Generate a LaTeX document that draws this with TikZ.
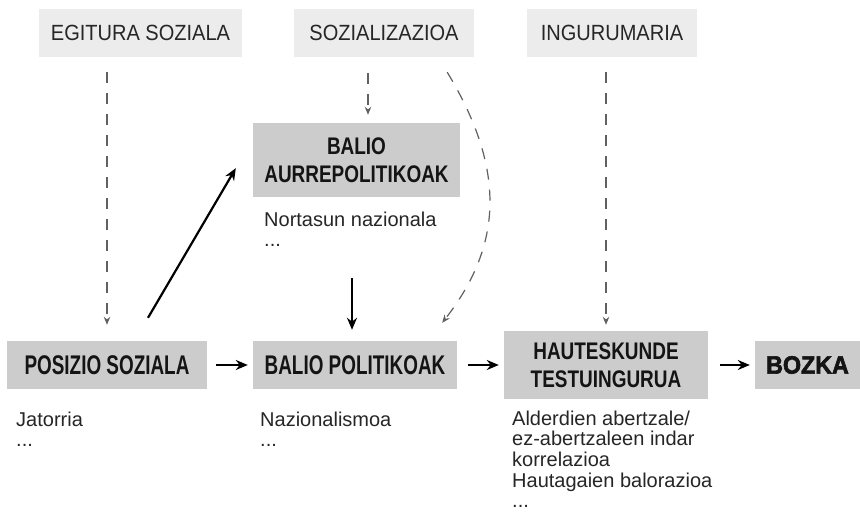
\documentclass[tikz,border=0pt]{standalone}
\usepackage{fontspec}
\setmainfont{Liberation Sans}
\newfontfamily\condfont[FakeStretch=0.70]{Liberation Sans}
\newfontfamily\condfontb[FakeStretch=0.79]{Liberation Sans}
\newfontfamily\topfont[FakeStretch=0.91]{Liberation Sans}
\newfontfamily\heavyfont[FakeStretch=0.93,BoldFeatures={FakeBold=2.5}]{Liberation Sans}
\usetikzlibrary{arrows.meta,calc}
\begin{document}
\begin{tikzpicture}[x=1pt,y=-1pt,
 topbox/.style={fill=black!7.5, text=black!85, font=\topfont\fontsize{22}{24}\selectfont, inner sep=0pt, minimum height=48pt},
 mainbox/.style={fill=black!20, text=black!92, font=\condfont\bfseries\fontsize{27}{29}\selectfont, inner sep=0pt, align=center},
 twoline/.style={font=\condfontb\bfseries\fontsize{24}{27.5}\selectfont},
 listtext/.style={anchor=north west, inner sep=0pt, align=left, text=black!85, font=\fontsize{20}{20.7}\selectfont},
 dasharrow/.style={draw=black!62, line width=1.2pt, dash pattern=on 11pt off 10pt, -{Stealth[length=8pt,width=6.5pt]}},
 solidarrow/.style={draw=black, line width=2.2pt, -{Stealth[length=12pt,width=10pt]}},
]
\fill[white] (0,0) rectangle (860,513);
\useasboundingbox (0,0) rectangle (860,513);

% top boxes
\node[topbox, minimum width=203pt] (egit) at (140.5,33) {EGITURA SOZIALA};
\node[topbox, minimum width=180pt] (soz) at (384,33) {SOZIALIZAZIOA};
\node[topbox, minimum width=170pt] (ingur) at (612,33) {INGURUMARIA};

% main boxes
\node[mainbox, twoline, minimum width=207pt, minimum height=74pt] (aurre) at (356.5,160) {BALIO\\AURREPOLITIKOAK};
\node[mainbox, minimum width=200pt, minimum height=48pt] (posizio) at (107,365) {POSIZIO SOZIALA};
\node[mainbox, minimum width=204pt, minimum height=48pt] (balpol) at (355,365) {BALIO POLITIKOAK};
\node[mainbox, twoline, minimum width=204pt, minimum height=68pt] (haut) at (606,365) {HAUTESKUNDE\\TESTUINGURUA};
\node[mainbox, minimum width=105pt, minimum height=48pt, font=\heavyfont\bfseries\fontsize{25}{27.5}\selectfont] (bozka) at (807.5,365) {BOZKA};

% list texts
\node[listtext] (tnort) at (264,211.5) {Nortasun nazionala\\...};
\node[listtext] (tjat) at (16,411.5) {Jatorria\\...};
\node[listtext] (tnaz) at (260,411.5) {Nazionalismoa\\...};
\node[listtext] (tald) at (512,410.5) {Alderdien abertzale/\\ez-abertzaleen indar\\korrelazioa\\Hautagaien balorazioa\\...};

% horizontal arrows
\draw[solidarrow, shorten <=9pt, shorten >=5pt] (posizio.east) -- (balpol.west);
\draw[solidarrow, shorten <=11pt, shorten >=5pt] (balpol.east) -- (haut.west);
\draw[solidarrow, shorten <=12pt, shorten >=5pt] (haut.east) -- (bozka.west);

% solid diagonal and down arrows
\draw[solidarrow] ($(posizio.north)+(41,-23)$) -- ($(aurre.south west)+(-17,-29)$);
\draw[solidarrow] ($(aurre.south)+(-4.5,81)$) -- ($(balpol.north)+(-3,-11)$);

% dashed arrows
\draw[dasharrow, shorten <=15pt, shorten >=16pt] (egit.south -| posizio.north) -- (posizio.north);
\draw[dasharrow] ($(soz.south)+(-16,16)$) -- ($(aurre.north)+(11.5,-8)$);
\draw[dasharrow, shorten <=15pt, shorten >=6pt] (ingur.south -| haut.north) -- (haut.north);
\draw[dasharrow] ($(soz.south east)+(-27,15)$) .. controls (507,171) and (502,246) .. ($(balpol.north east)+(-15,-18)$);
\end{tikzpicture}
\end{document}
